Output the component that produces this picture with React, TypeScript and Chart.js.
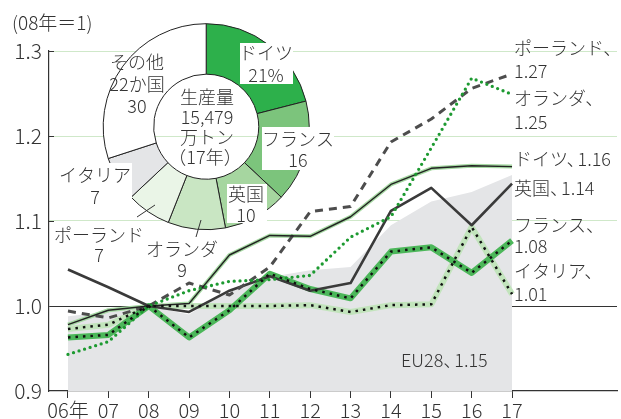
import React, { useEffect, useRef } from 'react';
import { Chart, registerables } from 'chart.js';

Chart.register(...registerables);

const FONT = '"Noto Sans CJK JP", "Noto Sans", sans-serif';
const INK = '#333333';

// ---- data ----
const years = ['06年', '07', '08', '09', '10', '11', '12', '13', '14', '15', '16', '17'];
const germany = [0.978, 0.995, 1.0, 1.003, 1.06, 1.083, 1.082, 1.105, 1.143, 1.162, 1.165, 1.164];
const uk = [1.043, 1.022, 1.0, 0.993, 1.018, 1.035, 1.018, 1.027, 1.112, 1.139, 1.095, 1.144];
const france = [0.963, 0.966, 1.0, 0.963, 0.995, 1.038, 1.02, 1.009, 1.064, 1.069, 1.039, 1.077];
const italy = [0.973, 0.978, 1.0, 1.0, 1.0, 1.0, 1.001, 0.993, 1.001, 1.002, 1.093, 1.014];
const poland = [0.994, 0.986, 1.0, 1.027, 1.013, 1.046, 1.111, 1.117, 1.193, 1.22, 1.256, 1.273];
const netherlands = [0.943, 0.958, 1.0, 1.018, 1.029, 1.031, 1.036, 1.081, 1.105, 1.186, 1.268, 1.249];
const eu28 = [0.988, 0.993, 1.0, 0.99, 1.02, 1.034, 1.042, 1.046, 1.095, 1.123, 1.134, 1.154];
const yTicks = [0.9, 1.0, 1.1, 1.2, 1.3];

const pieNames = ['ドイツ', 'フランス', '英国', 'オランダ', 'ポーランド', 'イタリア', 'その他22か国'];
const pieShares = [21, 16, 10, 9, 7, 7, 30];
const pieColors = ['#2db04b', '#7cc47c', '#a6d6a0', '#c9e6c3', '#eaf5e7', '#e4e5e7', '#ffffff'];

const pts = (arr: number[]) => arr.map((y, i) => ({ x: i, y }));

const lineAnnotations = {
  id: 'lineAnnotations',
  afterDraw(chart: any) {
    const { ctx, chartArea, scales } = chart;
    ctx.save();
    // inner tick marks on y axis
    ctx.strokeStyle = INK;
    ctx.lineWidth = 1;
    for (const v of [1.1, 1.2, 1.3]) {
      const y = Math.round(scales.y.getPixelForValue(v)) + 0.5;
      ctx.beginPath();
      ctx.moveTo(chartArea.left, y);
      ctx.lineTo(chartArea.left + 5, y);
      ctx.stroke();
    }
    ctx.fillStyle = INK;
    ctx.textBaseline = 'middle';
    ctx.textAlign = 'left';
    ctx.font = `300 19px ${FONT}`;
    ctx.fillText('(08年＝1)', 12, 23);
    const x = scales.x.getPixelForValue(11) + 2;
    const right: [string, number][] = [
      ['ポーランド、', 48], ['1.27', 71],
      ['オランダ、', 98], ['1.25', 122],
      ['ドイツ、1.16', 159],
      ['英国、1.14', 188],
      ['フランス、', 225], ['1.08', 246],
      ['イタリア、', 271], ['1.01', 294],
    ];
    ctx.font = `300 18px ${FONT}`;
    right.forEach(([t, y]) => {
      const i = t.indexOf('、');
      if (i >= 0 && i < t.length - 1) {
        const a = t.slice(0, i + 1);
        const b = t.slice(i + 1);
        ctx.fillText(a, x, y);
        ctx.fillText(b, x + ctx.measureText(a).width - 7, y);
      } else {
        ctx.fillText(t, x, y);
      }
    });
    const eu = 'EU28、';
    const ex = scales.x.getPixelForValue(8.25);
    ctx.fillText(eu, ex, 360);
    ctx.fillText('1.15', ex + ctx.measureText(eu).width - 7, 360);
    ctx.restore();
  },
};

const pieAnnotations = {
  id: 'pieAnnotations',
  afterDraw(chart: any) {
    const { ctx } = chart;
    ctx.save();
    ctx.fillStyle = '#ffffff';
    ctx.fillRect(240, 43, 53, 41);
    ctx.fillRect(262, 127, 72, 43);
    ctx.fillRect(227, 184, 40, 39);
    ctx.fillRect(60, 163, 72, 37);
    // leader lines
    ctx.strokeStyle = INK;
    ctx.lineWidth = 1;
    ctx.beginPath();
    ctx.moveTo(137, 217);
    ctx.lineTo(155, 205);
    ctx.moveTo(196, 237);
    ctx.lineTo(201, 220);
    ctx.stroke();

    ctx.fillStyle = INK;
    ctx.textAlign = 'center';
    ctx.textBaseline = 'middle';
    ctx.font = `300 18px ${FONT}`;
    const items: [string, number, number][] = [
      ['ドイツ', 266, 53], ['21%', 266, 75],
      ['フランス', 298, 139], ['16', 298, 160],
      ['英国', 246, 194], ['10', 246, 215],
      ['その他', 137, 62], ['22か国', 137, 84], ['30', 137, 106],
      ['イタリア', 95, 175], ['7', 95, 197],
      ['ポーランド', 99, 235], ['7', 99, 255],
      ['オランダ', 182, 249], ['9', 182, 270],
      ['生産量', 207, 97], ['15,479', 207, 117], ['万トン', 207, 137], ['（17年）', 205, 157],
    ];
    items.forEach(([t, x, y]) => ctx.fillText(t, x, y));
    ctx.restore();
  },
};

export default function App() {
  const lineRef = useRef<HTMLCanvasElement>(null);
  const pieRef = useRef<HTMLCanvasElement>(null);

  useEffect(() => {
    const dots = { borderColor: '#111', borderWidth: 2.5, borderDash: [2.5, 5], borderCapStyle: 'butt' };
    const base = { pointRadius: 0, fill: false, tension: 0, borderJoinStyle: 'round' };
    const line = new Chart(lineRef.current!, {
      type: 'line',
      data: {
        datasets: [
          { ...base, label: 'フランス', data: pts(france), ...dots },
          { ...base, label: 'イタリア', data: pts(italy), ...dots },
          { ...base, label: 'オランダ', data: pts(netherlands), borderColor: '#1d9a31', borderWidth: 3.3, borderDash: [0, 5.8], borderCapStyle: 'round' },
          { ...base, label: 'ドイツ', data: pts(germany), borderColor: '#222', borderWidth: 1.4 },
          { ...base, label: 'ポーランド', data: pts(poland), borderColor: '#4d4d4d', borderWidth: 3, borderDash: [8, 6] },
          { ...base, label: '英国', data: pts(uk), borderColor: '#3a3a3a', borderWidth: 2.6 },
          { ...base, label: 'フランスh', data: pts(france), borderColor: '#4cb75a', borderWidth: 6 },
          { ...base, label: 'イタリアh', data: pts(italy), borderColor: '#c2e4bc', borderWidth: 6 },
          { ...base, label: 'ドイツh', data: pts(germany), borderColor: '#a6d9a3', borderWidth: 4 },
          { ...base, label: 'EU28', data: pts(eu28), borderWidth: 0, backgroundColor: '#e4e5e7', fill: 'start' },
        ],
      } as any,
      options: {
        animation: false,
        responsive: true,
        maintainAspectRatio: false,
        layout: { padding: { top: 51, right: 4, left: 0, bottom: 0 } },
        plugins: { legend: { display: false }, tooltip: { enabled: false } },
        scales: {
          x: {
            type: 'linear',
            min: -0.47,
            max: 13.6,
            afterBuildTicks: (s: any) => { s.ticks = years.map((_, i) => ({ value: i })); },
            afterFit: (s: any) => { s.height = 28; },
            border: { display: true, color: INK, width: 1.2 },
            grid: { drawOnChartArea: false, drawTicks: true, tickLength: 7, color: INK, lineWidth: 1 },
            ticks: {
              autoSkip: false,
              maxRotation: 0,
              padding: 0,
              color: INK,
              font: { family: FONT, size: 20, weight: '300' },
              callback: (v: any) => years[Math.round(v)] ?? '',
            },
          },
          y: {
            min: 0.9,
            max: 1.3,
            afterBuildTicks: (s: any) => { s.ticks = yTicks.map((v) => ({ value: v })); },
            afterFit: (s: any) => { s.width = 49; },
            border: { display: true, color: INK, width: 1.2 },
            grid: {
              drawTicks: false,
              color: (c: any) => (Math.abs(c.tick.value - 1) < 1e-6 ? INK : Math.abs(c.tick.value - 0.9) < 1e-6 ? 'rgba(0,0,0,0)' : '#cfe8c9'),
              lineWidth: 1,
            },
            ticks: {
              padding: 7,
              color: INK,
              font: { family: FONT, size: 21, weight: '300' },
              callback: (v: any) => Number(v).toFixed(1),
            },
          },
        },
      } as any,
      plugins: [lineAnnotations],
    });

    const pie = new Chart(pieRef.current!, {
      type: 'doughnut',
      data: {
        labels: pieNames,
        datasets: [{ data: pieShares, backgroundColor: pieColors, borderColor: '#222', borderWidth: 1 }],
      },
      options: {
        animation: false,
        responsive: true,
        maintainAspectRatio: false,
        cutout: '51%',
        events: [],
        layout: { padding: { left: 102.7, right: 311.3, top: 23.2, bottom: 188.8 } },
        plugins: { legend: { display: false }, tooltip: { enabled: false } },
      } as any,
      plugins: [pieAnnotations],
    });

    return () => {
      line.destroy();
      pie.destroy();
    };
  }, []);

  return (
    <div style={{ position: 'fixed', left: 0, top: 0, width: 621, height: 419, background: '#fff' }}>
      <canvas ref={lineRef} style={{ position: 'absolute', left: 0, top: 0 }} />
      <div style={{ position: 'absolute', left: 0, top: 0, width: 621, height: 419, pointerEvents: 'none' }}>
        <canvas ref={pieRef} />
      </div>
    </div>
  );
}
